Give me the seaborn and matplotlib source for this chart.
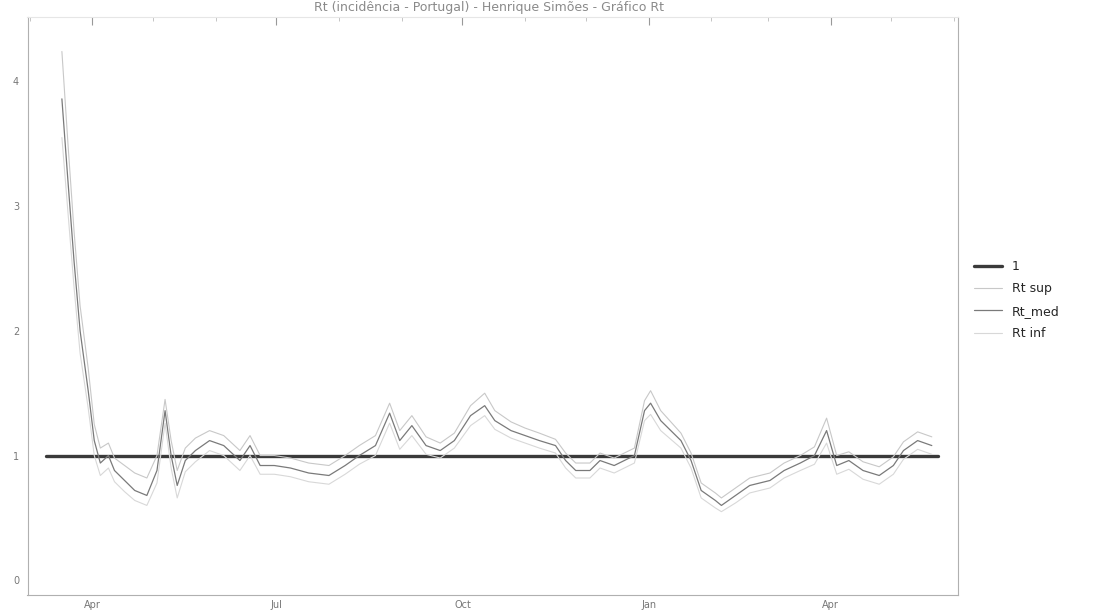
import pandas as pd
import matplotlib
matplotlib.use("Agg")
import matplotlib.pyplot as plt
import matplotlib.dates as mdates
import seaborn as sns

# Rt estimates (Portugal, Mar 2020 - May 2021)
dates = ["2020-03-17", "2020-03-20", "2020-03-23", "2020-03-26", "2020-03-30",
         "2020-04-02", "2020-04-05", "2020-04-09", "2020-04-12", "2020-04-17",
         "2020-04-22", "2020-04-28", "2020-05-03", "2020-05-07", "2020-05-10",
         "2020-05-13", "2020-05-17", "2020-05-22", "2020-05-29", "2020-06-05",
         "2020-06-13", "2020-06-18", "2020-06-23", "2020-06-30", "2020-07-08",
         "2020-07-17", "2020-07-27", "2020-08-04", "2020-08-11", "2020-08-19",
         "2020-08-26", "2020-08-31", "2020-09-06", "2020-09-13", "2020-09-20",
         "2020-09-27", "2020-10-05", "2020-10-12", "2020-10-17", "2020-10-25",
         "2020-11-01", "2020-11-08", "2020-11-16", "2020-11-21", "2020-11-26",
         "2020-12-03", "2020-12-08", "2020-12-15", "2020-12-25", "2020-12-30",
         "2021-01-02", "2021-01-07", "2021-01-12", "2021-01-17", "2021-01-22",
         "2021-01-27", "2021-02-03", "2021-02-06", "2021-02-13", "2021-02-20",
         "2021-03-02", "2021-03-09", "2021-03-17", "2021-03-24", "2021-03-30",
         "2021-04-04", "2021-04-10", "2021-04-17", "2021-04-25", "2021-05-02",
         "2021-05-07", "2021-05-14", "2021-05-21"]

rt_sup = [4.24, 3.5, 2.8, 2.2, 1.7, 1.25, 1.06, 1.1, 0.98, 0.92,
          0.86, 0.82, 1.0, 1.45, 1.12, 0.88, 1.06, 1.14, 1.2, 1.16,
          1.04, 1.16, 1.0, 1.0, 0.98, 0.94, 0.92, 1.0, 1.08, 1.16,
          1.42, 1.2, 1.32, 1.15, 1.1, 1.18, 1.4, 1.5, 1.36, 1.27,
          1.22, 1.18, 1.13, 1.02, 0.94, 0.94, 1.02, 0.98, 1.06, 1.44,
          1.52, 1.36, 1.27, 1.18, 1.02, 0.78, 0.7, 0.66, 0.74, 0.82,
          0.86, 0.94, 1.0, 1.07, 1.3, 1.0, 1.03, 0.95, 0.91, 0.99,
          1.11, 1.19, 1.15]

rt_med = [3.86, 3.2, 2.56, 2.0, 1.52, 1.12, 0.94, 1.0, 0.88, 0.8,
          0.72, 0.68, 0.88, 1.36, 1.0, 0.76, 0.96, 1.04, 1.12, 1.08,
          0.96, 1.08, 0.92, 0.92, 0.9, 0.86, 0.84, 0.92, 1.0, 1.08,
          1.34, 1.12, 1.24, 1.08, 1.04, 1.12, 1.32, 1.4, 1.28, 1.2,
          1.16, 1.12, 1.08, 0.96, 0.88, 0.88, 0.96, 0.92, 1.0, 1.36,
          1.42, 1.28, 1.2, 1.12, 0.96, 0.72, 0.64, 0.6, 0.68, 0.76,
          0.8, 0.88, 0.94, 1.0, 1.2, 0.92, 0.96, 0.88, 0.84, 0.92,
          1.04, 1.12, 1.08]

rt_inf = [3.55, 2.95, 2.35, 1.82, 1.38, 1.0, 0.84, 0.9, 0.79, 0.71,
          0.64, 0.6, 0.78, 1.26, 0.9, 0.66, 0.87, 0.95, 1.04, 1.0,
          0.88, 1.0, 0.85, 0.85, 0.83, 0.79, 0.77, 0.85, 0.93, 1.0,
          1.26, 1.05, 1.16, 1.01, 0.98, 1.06, 1.24, 1.32, 1.21, 1.14,
          1.1, 1.06, 1.02, 0.9, 0.82, 0.82, 0.9, 0.86, 0.94, 1.28,
          1.33, 1.2, 1.13, 1.06, 0.9, 0.66, 0.58, 0.55, 0.62, 0.7,
          0.74, 0.82, 0.88, 0.93, 1.1, 0.85, 0.89, 0.81, 0.77, 0.85,
          0.97, 1.05, 1.01]

# reference line Rt = 1
ref_dates = ["2020-03-09", "2021-05-24"]
ref_vals = [1, 1]

df = pd.DataFrame({"date": pd.to_datetime(dates), "Rt sup": rt_sup,
                   "Rt_med": rt_med, "Rt inf": rt_inf})
ref = pd.DataFrame({"date": pd.to_datetime(ref_dates), "val": ref_vals})

sns.set_style("white")
plt.rcParams['font.family'] = ['DejaVu Sans']

fig = plt.figure(figsize=(11, 6.13), dpi=100)
ax = fig.add_axes([0.025, 0.029, 0.846, 0.944])

sns.lineplot(data=ref, x="date", y="val", ax=ax, color="#3a3a3a", lw=2.4, label="1")
sns.lineplot(data=df, x="date", y="Rt sup", ax=ax, color="#c8c8c8", lw=0.8, label="Rt sup")
sns.lineplot(data=df, x="date", y="Rt_med", ax=ax, color="#7a7a7a", lw=0.9, label="Rt_med")
sns.lineplot(data=df, x="date", y="Rt inf", ax=ax, color="#d8d8d8", lw=0.8, label="Rt inf")

ax.set_xlim(pd.Timestamp("2020-02-29"), pd.Timestamp("2021-06-03"))
ax.set_ylim(-0.12, 4.52)
ax.set_xlabel("")
ax.set_ylabel("")

ax.xaxis.set_major_locator(mdates.MonthLocator(bymonth=[1, 4, 7, 10]))
ax.xaxis.set_major_formatter(mdates.DateFormatter("%b"))
ax.xaxis.set_minor_locator(mdates.MonthLocator())
ax.set_yticks([0, 1, 2, 3, 4])
ax.set_yticks([i * 0.2 for i in range(23)], minor=True)
ax.tick_params(axis="both", which="major", direction="in", length=6, width=0.8,
               colors="#999999", labelcolor="#777777", labelsize=7, top=True)
ax.tick_params(axis="both", which="minor", direction="in", length=3, width=0.6,
               colors="#bbbbbb", top=True)
ax.tick_params(axis="y", pad=6)

for side, sp in ax.spines.items():
    sp.set_visible(True)
    sp.set_linewidth(0.8)
    sp.set_color("#b0b0b0")
ax.spines["top"].set_color("#e6e6e6")

ax.legend(loc="center left", bbox_to_anchor=(1.005, 0.51), frameon=False,
          fontsize=9, handlelength=2.2, labelspacing=0.75)

fig.text(0.445, 0.999, "Rt (incidência - Portugal) - Henrique Simões - Gráfico Rt",
         ha="center", va="top", fontsize=9, color="#8a8a8a")

fig.savefig("out.png", dpi=100)
